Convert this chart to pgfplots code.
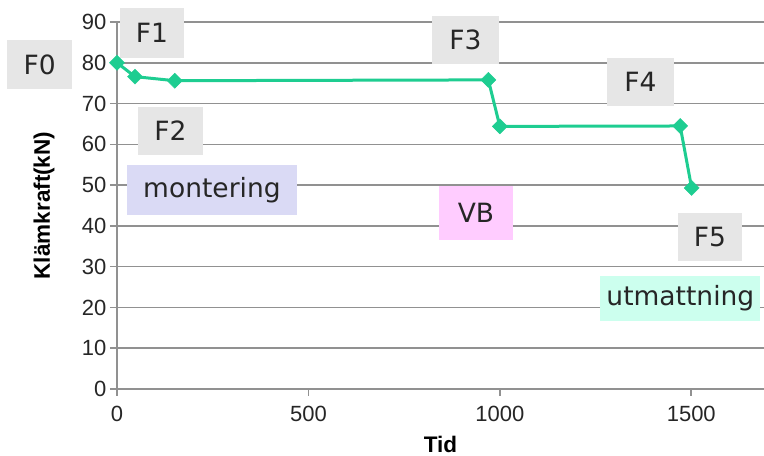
\documentclass[border=0pt]{standalone}
\usepackage{pgfplots}
\pgfplotsset{compat=1.18}
\usepackage{fontspec}
\setmainfont{Liberation Sans}
\newfontfamily\boxfont{DejaVu Sans}
\definecolor{linec}{RGB}{30,205,145}
\definecolor{gridc}{RGB}{145,145,145}
\definecolor{boxgray}{RGB}{230,230,230}
\definecolor{boxlav}{RGB}{218,218,245}
\definecolor{boxpink}{RGB}{255,204,255}
\definecolor{boxcyan}{RGB}{204,255,238}
\tikzset{lbl/.style={font=\boxfont\fontsize{26.5}{26.5}\selectfont, text=black!85, inner sep=0pt}}
\begin{document}
\begin{tikzpicture}
\begin{axis}[
  name=ax,
  scale only axis,
  width=647pt, height=367pt,
  xmin=0, xmax=1690, ymin=0, ymax=90,
  axis lines=left, axis line style={-, gridc, line width=1.8pt},
  xtick={0,500,1000,1500}, ytick={0,10,...,90},
  ymajorgrids, major grid style={gridc, line width=1.6pt},
  tick style={gridc, line width=1.6pt},
  tick align=outside, major tick length=7pt,
  clip=false,
  ticklabel style={font=\fontsize{22}{22}\selectfont, text=black!85},
  xticklabel style={yshift=-7pt},
  /pgf/number format/assume math mode=true,
  /pgf/number format/1000 sep={},
  xlabel={\bfseries Tid}, ylabel={\bfseries Klämkraft(kN)},
  label style={font=\fontsize{22.5}{22.5}\selectfont, inner sep=0pt},
  xlabel style={at={(axis description cs:0.5,0)}, anchor=center, yshift=-55pt},
  ylabel style={at={(axis description cs:0,0.5)}, anchor=center, yshift=73pt},
]
\addplot[linec, line width=3pt, mark=square*, mark size=5.3pt,
  mark options={rotate=45, solid, fill=linec, line width=0.5pt}]
  coordinates {(0,80) (47,76.6) (151,75.6) (970,75.8) (1000,64.4) (1471,64.5) (1501,49.3)};

\node[lbl, fill=boxgray, minimum width=65pt, minimum height=49pt] at (axis cs:-202,79.6) {F0};
\node[lbl, fill=boxgray, minimum width=64pt, minimum height=50pt] at (axis cs:91.4,87.3) {F1};
\node[lbl, fill=boxgray, minimum width=65pt, minimum height=48pt] at (axis cs:139.7,63.3) {F2};
\node[lbl, fill=boxlav, minimum width=170pt, minimum height=50pt] at (axis cs:248,48.8) {montering};
\node[lbl, fill=boxgray, minimum width=67pt, minimum height=48pt] at (axis cs:910,85.6) {F3};
\node[lbl, fill=boxgray, minimum width=67pt, minimum height=48pt] at (axis cs:1367,75.3) {F4};
\node[lbl, fill=boxpink, minimum width=74pt, minimum height=54pt] at (axis cs:937.7,43.2) {VB};
\node[lbl, fill=boxgray, minimum width=64pt, minimum height=48pt] at (axis cs:1549,37.3) {F5};
\node[lbl, fill=boxcyan, minimum width=160pt, minimum height=45pt, anchor=west] at (axis cs:1262,22.2) {utmattning};
\end{axis}
\pgfresetboundingbox
\path ([shift={(-117pt,-67pt)}]ax.south west) rectangle ([shift={(0pt,22pt)}]ax.north east);
\end{tikzpicture}
\end{document}
